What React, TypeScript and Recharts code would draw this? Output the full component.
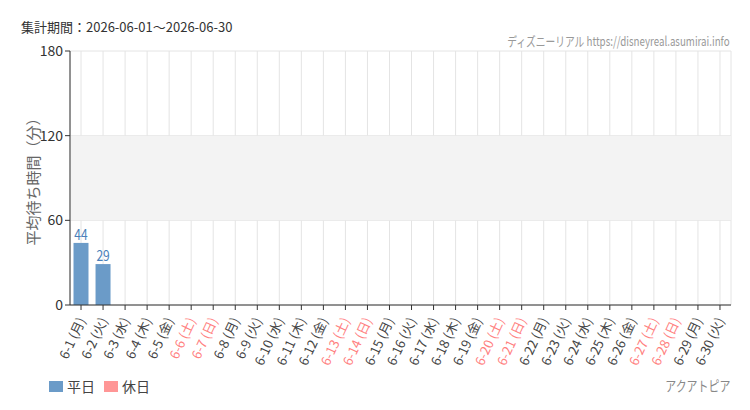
import { BarChart, Bar, XAxis, YAxis, CartesianGrid, ReferenceArea, Cell, LabelList } from 'recharts';

const days = [
  '6-1', '6-2', '6-3', '6-4', '6-5', '6-6', '6-7', '6-8', '6-9', '6-10',
  '6-11', '6-12', '6-13', '6-14', '6-15', '6-16', '6-17', '6-18', '6-19', '6-20',
  '6-21', '6-22', '6-23', '6-24', '6-25', '6-26', '6-27', '6-28', '6-29', '6-30',
];
const dayOfWeek = [
  '月', '火', '水', '木', '金', '土', '日', '月', '火', '水',
  '木', '金', '土', '日', '月', '火', '水', '木', '金', '土',
  '日', '月', '火', '水', '木', '金', '土', '日', '月', '火',
];
const waitTimes: (number | null)[] = [
  44, 29, null, null, null, null, null, null, null, null,
  null, null, null, null, null, null, null, null, null, null,
  null, null, null, null, null, null, null, null, null, null,
];
const yTicks = [0, 60, 120, 180];

const WEEKDAY_COLOR = '#6b9bc8';
const HOLIDAY_COLOR = '#ff9696';
const FONT = '"Noto Sans CJK JP", "Noto Sans", sans-serif';

const data = days.map((d, i) => ({
  label: `${d} (${dayOfWeek[i]})`,
  holiday: dayOfWeek[i] === '土' || dayOfWeek[i] === '日',
  value: waitTimes[i],
}));

function DayTick(props: any) {
  const { x, y, payload, index } = props;
  const holiday = data[index]?.holiday;
  return (
    <text
      x={x}
      y={y + 6}
      transform={`rotate(-65, ${x}, ${y + 6})`}
      textAnchor="end"
      dominantBaseline="central"
      fontSize={13}
      fontFamily={FONT}
      fill={holiday ? '#ff7f7f' : '#444'}
    >
      {payload.value}
    </text>
  );
}

// narrow number above each bar
function ValueLabel(props: any) {
  const { x, y, width, value } = props;
  if (value == null) return null;
  const cx = x + width / 2;
  return (
    <text
      x={0}
      y={0}
      transform={`translate(${cx}, ${y - 3}) scale(0.8, 1)`}
      textAnchor="middle"
      fontSize={15}
      fontFamily={FONT}
      fill="#4a7fb9"
    >
      {value}
    </text>
  );
}

export default function App() {
  return (
    <div style={{ position: 'absolute', left: 0, top: 0, width: 750, height: 410, background: '#fff', fontFamily: FONT }}>
      <div style={{ position: 'absolute', left: 21, top: 17, fontSize: 13, color: '#333' }}>
        集計期間：2026-06-01～2026-06-30
      </div>
      <div
        style={{
          position: 'absolute', right: 20, top: 31, fontSize: 13, color: '#999',
          transform: 'scaleX(0.75)', transformOrigin: 'right center', whiteSpace: 'nowrap',
        }}
      >
        ディズニーリアル https://disneyreal.asumirai.info
      </div>
      <BarChart
        width={750}
        height={410}
        data={data}
        margin={{ top: 51, right: 19, bottom: 30, left: 20 }}
        barCategoryGap={3.5}
      >
        <ReferenceArea y1={60} y2={120} fill="#f3f3f3" fillOpacity={1} stroke="none" ifOverflow="hidden" />
        <CartesianGrid stroke="#e4e4e4" />
        <XAxis
          dataKey="label"
          interval={0}
          height={75}
          tick={<DayTick />}
          tickSize={5}
          axisLine={{ stroke: '#333' }}
          tickLine={{ stroke: '#333' }}
        />
        <YAxis
          width={50}
          domain={[0, 180]}
          ticks={yTicks}
          tickSize={5}
          axisLine={{ stroke: '#333' }}
          tickLine={{ stroke: '#333' }}
          tick={{ fill: '#333', fontSize: 14, fontFamily: FONT }}
          label={{
            value: '平均待ち時間（分）',
            angle: -90,
            position: 'insideLeft',
            offset: 14,
            style: { textAnchor: 'middle', fill: '#666', fontSize: 15, fontFamily: FONT },
          }}
        />
        <Bar dataKey="value" isAnimationActive={false}>
          {data.map((d, i) => (
            <Cell key={`cell-${i}`} fill={d.holiday ? HOLIDAY_COLOR : WEEKDAY_COLOR} />
          ))}
          <LabelList dataKey="value" content={<ValueLabel />} />
        </Bar>
      </BarChart>
      <div style={{ position: 'absolute', left: 49, top: 376, display: 'flex', alignItems: 'center', fontSize: 14, color: '#444' }}>
        <span style={{ display: 'inline-block', width: 14, height: 11, background: WEEKDAY_COLOR, marginRight: 4 }} />
        <span style={{ marginRight: 9 }}>平日</span>
        <span style={{ display: 'inline-block', width: 14, height: 11, background: HOLIDAY_COLOR, marginRight: 4 }} />
        <span>休日</span>
      </div>
      <div
        style={{
          position: 'absolute', right: 20, top: 375, fontSize: 14, color: '#888',
          transform: 'scaleX(0.78)', transformOrigin: 'right center', whiteSpace: 'nowrap',
        }}
      >
        アクアトピア
      </div>
    </div>
  );
}
